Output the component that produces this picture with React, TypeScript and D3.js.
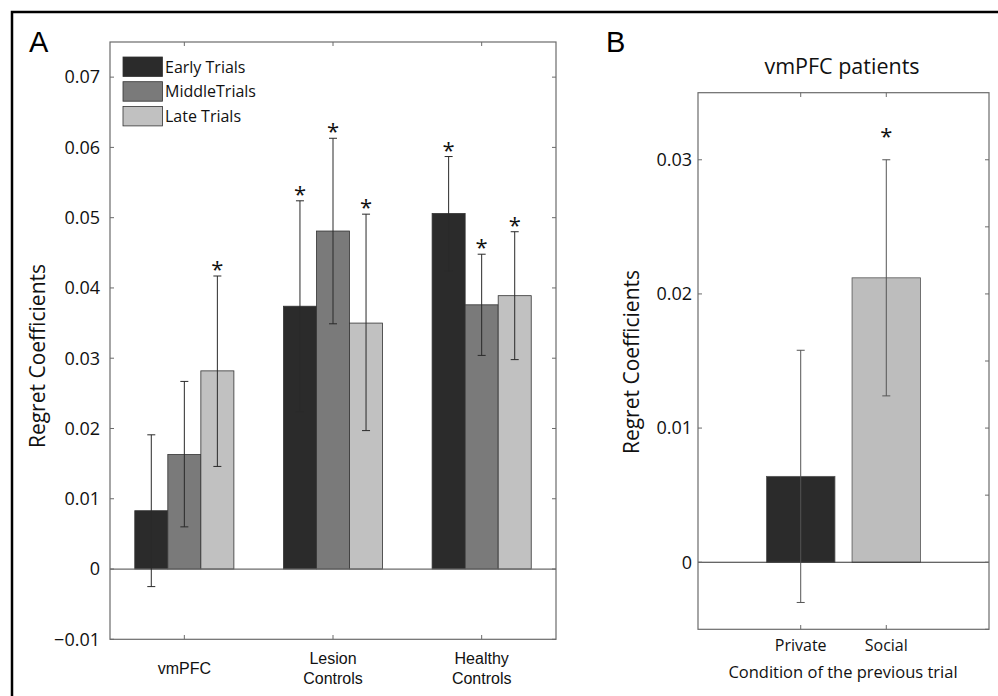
import React from "react";
import * as d3 from "d3";

// Panel A: regret coefficients per group and trial phase
const groupsA = [["vmPFC"], ["Lesion", "Controls"], ["Healthy", "Controls"]];
const seriesA = ["Early Trials", "MiddleTrials", "Late Trials"];
const colorsA = ["#2b2b2b", "#7a7a7a", "#c1c1c1"];
const earlyVals = [0.0083, 0.0374, 0.0506];
const earlyLo = [-0.0025, 0.0224, 0.0424];
const earlyHi = [0.0191, 0.0524, 0.0587];
const middleVals = [0.0163, 0.0481, 0.0376];
const middleLo = [0.006, 0.0349, 0.0304];
const middleHi = [0.0267, 0.0613, 0.0448];
const lateVals = [0.0282, 0.0350, 0.0389];
const lateLo = [0.0146, 0.0197, 0.0298];
const lateHi = [0.0417, 0.0505, 0.048];
const starsA = [[false, true, true], [false, true, true], [true, true, true]]; // [series][group]
const ticksA = [-0.01, 0, 0.01, 0.02, 0.03, 0.04, 0.05, 0.06, 0.07];

// Panel B: vmPFC patients by previous trial condition
const conditionsB = ["Private", "Social"];
const colorsB = ["#2b2b2b", "#bdbdbd"];
const valsB = [0.0064, 0.0212];
const loB = [-0.003, 0.0124];
const hiB = [0.0158, 0.03];
const starsB = [false, true];
const ticksB = [0, 0.01, 0.02, 0.03];
const minorTicksB = [-0.005, 0, 0.005, 0.01, 0.015, 0.02, 0.025, 0.03];

const axisColor = "#6b6b6b";
const font = "'Open Sans', sans-serif";

export default function App() {
  // panel A scales
  const xA = d3.scaleLinear().domain([0.5, 3.5]).range([110, 556]);
  const yA = d3.scaleLinear().domain([-0.01, 0.075]).range([639.3, 42]);
  const groupW = xA(1 + 1 / 3) - xA(1 - 1 / 3);
  const inner = d3.scaleBand().domain(seriesA).range([-groupW / 2, groupW / 2]);
  const seriesData = [
    { v: earlyVals, lo: earlyLo, hi: earlyHi },
    { v: middleVals, lo: middleLo, hi: middleHi },
    { v: lateVals, lo: lateLo, hi: lateHi },
  ];

  // panel B scales
  const xB = d3.scaleLinear().domain([-0.2, 3.2]).range([698, 989]);
  const yB = d3.scaleLinear().domain([-0.005, 0.035]).range([629.3, 92.7]);
  const barWB = xB(0.8) - xB(0);

  const fmt = (t: number) => (t < 0 ? "\u2212" + Math.abs(t) : String(t));

  const errBar = (x: number, lo: number, hi: number, key: string, stroke: string) => (
    <g key={key} stroke={stroke} strokeWidth={1}>
      <line x1={x} x2={x} y1={lo} y2={hi} />
      <line x1={x - 4} x2={x + 4} y1={lo} y2={lo} />
      <line x1={x - 4} x2={x + 4} y1={hi} y2={hi} />
    </g>
  );

  return (
    <svg
      width={998}
      height={696}
      style={{ position: "absolute", left: 0, top: 0, background: "#fff" }}
      fontFamily={font}
    >
      <rect x={12} y={12} width={1000} height={700} fill="none" stroke="#000" strokeWidth={2.5} />

      {/* ---------- Panel A ---------- */}
      <text x={29} y={52} fontSize={29} fontFamily="'Liberation Sans', Arial, sans-serif">A</text>

      {/* bars */}
      {seriesData.map((s, si) =>
        s.v.map((v, gi) => {
          const x0 = xA(gi + 1) + (inner(seriesA[si]) as number);
          return (
            <rect
              key={`a${si}-${gi}`}
              x={x0}
              y={yA(v)}
              width={inner.bandwidth()}
              height={yA(0) - yA(v)}
              fill={colorsA[si]}
              stroke="#333"
              strokeWidth={0.8}
            />
          );
        })
      )}
      {/* zero line */}
      <line x1={xA(0.5)} x2={xA(3.5)} y1={yA(0)} y2={yA(0)} stroke={axisColor} strokeWidth={1.2} />
      {/* error bars + stars */}
      {seriesData.map((s, si) =>
        s.v.map((v, gi) => {
          const cx = xA(gi + 1) + (inner(seriesA[si]) as number) + inner.bandwidth() / 2;
          return (
            <g key={`ae${si}-${gi}`}>
              {errBar(cx, yA(s.lo[gi]), yA(s.hi[gi]), "e", "#2a2a2a")}
              {starsA[si][gi] && (
                <text x={cx} y={yA(s.hi[gi]) + 1} fontSize={22} textAnchor="middle" fill="#111">*</text>
              )}
            </g>
          );
        })
      )}

      {/* frame */}
      <rect x={110} y={42} width={446} height={597.3} fill="none" stroke={axisColor} strokeWidth={1.2} />
      {ticksA.map((t) => (
        <g key={`ta${t}`}>
          <line x1={110} x2={114} y1={yA(t)} y2={yA(t)} stroke={axisColor} />
          <line x1={552} x2={556} y1={yA(t)} y2={yA(t)} stroke={axisColor} />
          <text x={100} y={yA(t)} dy="0.35em" fontSize={18} textAnchor="end" fill="#111">{fmt(t)}</text>
        </g>
      ))}
      {groupsA.map((g, gi) => (
        <g key={`ga${gi}`}>
          <line x1={xA(gi + 1)} x2={xA(gi + 1)} y1={639.3} y2={635} stroke={axisColor} />
          <line x1={xA(gi + 1)} x2={xA(gi + 1)} y1={42} y2={46} stroke={axisColor} />
          {g.map((line, li) => (
            <text
              key={li}
              x={xA(gi + 1)}
              y={g.length === 1 ? 674 : 664 + li * 20}
              fontSize={16}
              textAnchor="middle"
              fontFamily="'Liberation Sans', Arial, sans-serif"
              fill="#111"
            >
              {line}
            </text>
          ))}
        </g>
      ))}
      <text
        transform="translate(45,356) rotate(-90)"
        fontSize={21}
        textAnchor="middle"
        fill="#111"
      >
        Regret Coefficients
      </text>

      {/* legend */}
      {seriesA.map((s, si) => (
        <g key={`lg${si}`}>
          <rect x={123} y={57 + si * 24.7} width={39.5} height={19.5} fill={colorsA[si]} stroke="#333" strokeWidth={0.8} />
          <text x={165} y={67 + si * 24.7} dy="0.35em" fontSize={16} fill="#111">{s}</text>
        </g>
      ))}

      {/* ---------- Panel B ---------- */}
      <text x={606} y={52} fontSize={29} fontFamily="'Liberation Sans', Arial, sans-serif">B</text>
      <text x={842} y={74} fontSize={21.5} textAnchor="middle" fill="#111">vmPFC patients</text>

      {conditionsB.map((c, i) => (
        <rect
          key={`b${c}`}
          x={xB(i + 1) - barWB / 2}
          y={yB(valsB[i])}
          width={barWB}
          height={yB(0) - yB(valsB[i])}
          fill={colorsB[i]}
          stroke="#555"
          strokeWidth={0.8}
        />
      ))}
      <line x1={xB(-0.2)} x2={xB(3.2)} y1={yB(0)} y2={yB(0)} stroke="#333" strokeWidth={1.2} />
      {conditionsB.map((c, i) => (
        <g key={`be${c}`}>
          {errBar(xB(i + 1), yB(loB[i]), yB(hiB[i]), "e", "#555")}
          {starsB[i] && (
            <text x={xB(i + 1)} y={yB(hiB[i]) - 16} fontSize={22} textAnchor="middle" fill="#111">*</text>
          )}
        </g>
      ))}

      <rect x={698} y={92.7} width={291} height={536.6} fill="none" stroke={axisColor} strokeWidth={1.2} />
      {ticksB.map((t) => (
        <g key={`tb${t}`}>
          <line x1={698} x2={702} y1={yB(t)} y2={yB(t)} stroke={axisColor} />
          <text x={692} y={yB(t)} dy="0.35em" fontSize={18} textAnchor="end" fill="#111">{fmt(t)}</text>
        </g>
      ))}
      {minorTicksB.map((t) => (
        <line key={`mb${t}`} x1={985} x2={989} y1={yB(t)} y2={yB(t)} stroke={axisColor} />
      ))}
      {conditionsB.map((c, i) => (
        <g key={`xb${c}`}>
          <line x1={xB(i + 1)} x2={xB(i + 1)} y1={629.3} y2={625} stroke={axisColor} />
          <line x1={xB(i + 1)} x2={xB(i + 1)} y1={92.7} y2={97} stroke={axisColor} />
          <text x={xB(i + 1)} y={651} fontSize={16} textAnchor="middle" fill="#111">{c}</text>
        </g>
      ))}
      <text x={843} y={678} fontSize={16.5} textAnchor="middle" fill="#111">
        Condition of the previous trial
      </text>
      <text
        transform="translate(639,362) rotate(-90)"
        fontSize={21}
        textAnchor="middle"
        fill="#111"
      >
        Regret Coefficients
      </text>
    </svg>
  );
}
